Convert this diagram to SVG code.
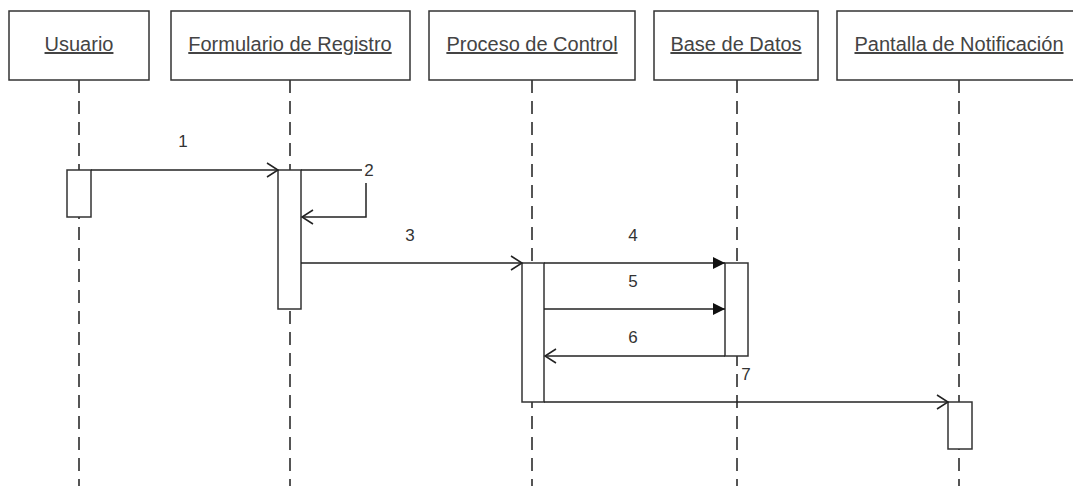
<svg xmlns="http://www.w3.org/2000/svg" width="1073" height="486" viewBox="0 0 1073 486">
  <defs>
    <style>
      .head { fill: #fff; stroke: #333; stroke-width: 1.5; }
      .head-text { font-family: "Liberation Sans", Arial, sans-serif; font-size: 20px; fill: #444; text-anchor: middle; text-decoration: underline; }
      .life { stroke: #555; stroke-width: 2; stroke-dasharray: 13 8; fill: none; }
      .act { fill: #fff; stroke: #333; stroke-width: 1.5; }
      .msg { stroke: #222; stroke-width: 1.5; fill: none; }
      .lbl { font-family: "Liberation Sans", Arial, sans-serif; font-size: 17px; fill: #333; text-anchor: middle; }
    </style>
    <marker id="open" markerWidth="14" markerHeight="16" refX="12" refY="8" orient="auto" markerUnits="userSpaceOnUse">
      <path d="M1,1 L12,8 L1,15" fill="none" stroke="#222" stroke-width="1.5"/>
    </marker>
    <marker id="filled" markerWidth="14" markerHeight="14" refX="12" refY="7" orient="auto" markerUnits="userSpaceOnUse">
      <path d="M0,1 L12,7 L0,13 Z" fill="#111" stroke="none"/>
    </marker>
  </defs>
  <rect width="1073" height="486" fill="#fff"/>

  <!-- lifelines -->
  <g id="lifelines">
    <line class="life" x1="79" y1="80" x2="79" y2="486"/>
    <line class="life" x1="290" y1="80" x2="290" y2="486"/>
    <line class="life" x1="532" y1="80" x2="532" y2="486"/>
    <line class="life" x1="737" y1="80" x2="737" y2="486"/>
    <line class="life" x1="959" y1="80" x2="959" y2="486"/>
  </g>

  <!-- participants with their activation bars -->
  <g id="usuario">
    <rect class="head" x="9" y="11" width="140" height="69"/>
    <text class="head-text" x="79" y="51">Usuario</text>
    <rect class="act" x="67" y="170" width="24" height="47"/>
  </g>
  <g id="formulario">
    <rect class="head" x="171" y="11" width="239" height="69"/>
    <text class="head-text" x="290" y="51">Formulario de Registro</text>
    <rect class="act" x="278" y="170" width="23" height="139"/>
  </g>
  <g id="proceso">
    <rect class="head" x="429" y="11" width="206" height="69"/>
    <text class="head-text" x="532" y="51">Proceso de Control</text>
    <rect class="act" x="522" y="263" width="22" height="139"/>
  </g>
  <g id="base">
    <rect class="head" x="654" y="11" width="164" height="69"/>
    <text class="head-text" x="736" y="51">Base de Datos</text>
    <rect class="act" x="725" y="263" width="23" height="93"/>
  </g>
  <g id="pantalla">
    <rect class="head" x="837" y="11" width="240" height="69"/>
    <text class="head-text" x="959" y="51">Pantalla de Notificación</text>
    <rect class="act" x="948" y="402" width="24" height="47"/>
  </g>

  <!-- messages -->
  <g id="connectors">
    <line class="msg" x1="91" y1="170" x2="278" y2="170" marker-end="url(#open)"/>
    <line class="msg" x1="301" y1="170" x2="362" y2="170"/>
    <polyline class="msg" points="366,183 366,217 302,217" marker-end="url(#open)"/>
    <line class="msg" x1="301" y1="263" x2="522" y2="263" marker-end="url(#open)"/>
    <line class="msg" x1="544" y1="263" x2="725" y2="263" marker-end="url(#filled)"/>
    <line class="msg" x1="544" y1="309" x2="725" y2="309" marker-end="url(#filled)"/>
    <line class="msg" x1="725" y1="356" x2="545" y2="356" marker-end="url(#open)"/>
    <line class="msg" x1="544" y1="402" x2="948" y2="402" marker-end="url(#open)"/>
  </g>

  <!-- message numbers -->
  <g id="labels">
    <text class="lbl" x="183" y="147">1</text>
    <text class="lbl" x="369" y="176">2</text>
    <text class="lbl" x="410" y="241">3</text>
    <text class="lbl" x="633" y="241">4</text>
    <text class="lbl" x="633" y="287">5</text>
    <text class="lbl" x="633" y="343">6</text>
    <text class="lbl" x="746" y="380">7</text>
  </g>
</svg>
